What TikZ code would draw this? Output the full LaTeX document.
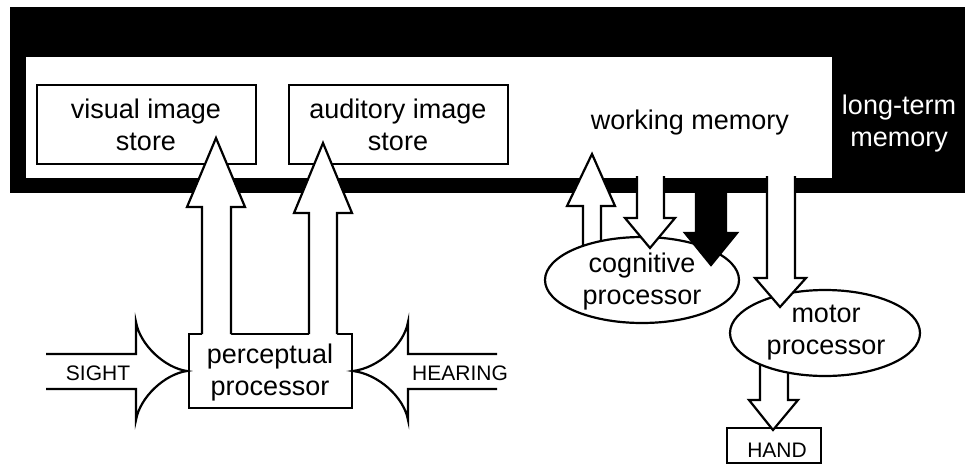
\documentclass[tikz,border=0pt]{standalone}
\usepackage{fontspec}
\setmainfont{Liberation Sans}
\begin{document}
\begin{tikzpicture}[x=1pt,y=-1pt,line width=2.2pt,line join=miter,
  big/.style={font=\fontsize{27}{32}\selectfont, align=center, inner sep=0pt},
  small/.style={font=\fontsize{21}{24}\selectfont, inner sep=0pt},
  boxw/.style={draw=black, fill=white},
  outl/.style={draw=black},
  wfill/.style={fill=white, draw=none},
  bfill/.style={fill=black, draw=black}]
\useasboundingbox (0,0) rectangle (965,463);
% long-term memory band and working memory area
\fill[black] (10,7) rectangle (965,193);
\fill[white] (26,57) rectangle (832,178);
% stores
\draw[boxw] (37,85) rectangle (256,164);
\draw[boxw] (289,85) rectangle (508,164);
% perceptual processor
\draw[boxw] (189,334) rectangle (352,408);
\coordinate (pL) at (216,138);
\coordinate (pR) at (323,143);
\fill[white] (202,338) -- (202,207) -- (187,207) -- (pL) -- (245,207) -- (231,207) -- (231,338) -- cycle;
\draw (202,334) -- (202,207) -- (187,207) -- (pL) -- (245,207) -- (231,207) -- (231,334);
\fill[white] (309,338) -- (309,213) -- (294,213) -- (pR) -- (352,213) -- (337,213) -- (337,338) -- cycle;
\draw (309,334) -- (309,213) -- (294,213) -- (pR) -- (352,213) -- (337,213) -- (337,334);
% SIGHT / HEARING inputs
\draw (46,354) -- (136,354) -- (136,322) .. controls (140,345) and (165,368) .. (187,371)
      .. controls (165,374) and (140,397) .. (136,420) -- (136,389) -- (46,389);
\draw (497,354) -- (408,354) -- (408,322) .. controls (404,345) and (378,368) .. (353,371)
      .. controls (378,374) and (404,397) .. (408,420) -- (408,389) -- (497,389);
% cognitive processor: arrow up to working memory
\coordinate (cU) at (592,154);
\fill[white] (583,265) -- (583,206) -- (567,206) -- (cU) -- (615,206) -- (601,206) -- (601,265) -- cycle;
\draw (583,265) -- (583,206) -- (567,206) -- (cU) -- (615,206) -- (601,206) -- (601,265);
\draw[boxw] (642,280) ellipse [x radius=97, y radius=43];
% working memory -> cognitive (white)
\coordinate (cD) at (650,248);
\fill[white] (637,176) -- (637,218) -- (625,218) -- (cD) -- (675,218) -- (664,218) -- (664,176) -- cycle;
\draw (637,176) -- (637,218) -- (625,218) -- (cD) -- (675,218) -- (664,218) -- (664,176);
% long-term memory -> cognitive (black)
\coordinate (cB) at (711,265);
\draw[bfill] (696,190) -- (696,233) -- (685,233) -- (cB) -- (737,233) -- (726,233) -- (726,190) -- cycle;
% motor processor
\coordinate (hT) at (773,430);
\draw[boxw] (727,428) rectangle (821,463);
\fill[white] (760,350) -- (760,400) -- (749,400) -- (hT) -- (798,400) -- (788,400) -- (788,350) -- cycle;
\draw (760,350) -- (760,400) -- (749,400) -- (hT) -- (798,400) -- (788,400) -- (788,350);
\draw[boxw] (825,333) ellipse [x radius=95, y radius=43];
\coordinate (mT) at (780,307);
\fill[white] (767,176) -- (767,278) -- (755,278) -- (mT) -- (806,278) -- (795,278) -- (795,176) -- cycle;
\draw (767,176) -- (767,278) -- (755,278) -- (mT) -- (806,278) -- (795,278) -- (795,176);
% texts (anchor = baseline of last line)
\node[big, anchor=base] (vis) at (146,150) {visual image\\store};
\node[big, anchor=base] (aud) at (398,150) {auditory image\\store};
\node[big, anchor=base] (wm) at (690,129) {working memory};
\node[big, anchor=base, text=white] (ltm) at (899,146) {long-term\\memory};
\node[big, anchor=base] (perc) at (270,395) {perceptual\\processor};
\node[big, anchor=base] (cog) at (642,304) {cognitive\\processor};
\node[big, anchor=base] (mot) at (826,354) {motor\\processor};
\node[small, anchor=base] (sight) at (98,380) {SIGHT};
\node[small, anchor=base] (hear) at (460,380) {HEARING};
\node[small, anchor=base] (hand) at (777,457) {HAND};
\end{tikzpicture}
\end{document}
